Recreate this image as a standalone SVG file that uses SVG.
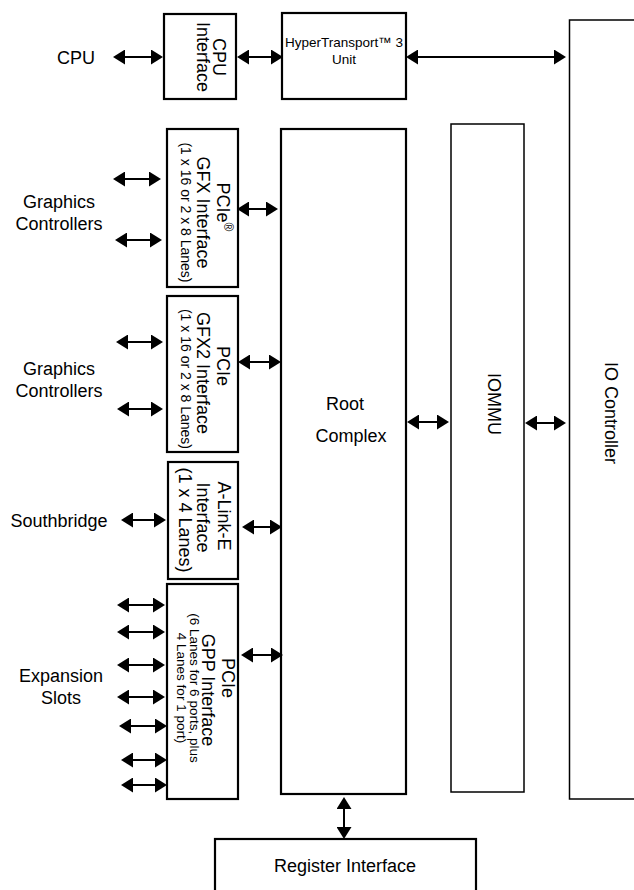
<svg xmlns="http://www.w3.org/2000/svg" width="634" height="890" viewBox="0 0 634 890">
<style>
  .box{fill:#fff;stroke:#000;stroke-width:2.2}
  .thin{fill:#fff;stroke:#000;stroke-width:1.5}
  text{font-family:"Liberation Sans",Arial,sans-serif;fill:#000}
  .t18{font-size:18px}
  .t14{font-size:14px}
  .t135{font-size:13.5px}
  .c{text-anchor:middle}
  .conn line{stroke:#000;stroke-width:2;marker-start:url(#ah);marker-end:url(#ah)}
</style>
<defs>
  <marker id="ah" viewBox="0 0 12 15" refX="10" refY="7.5" markerWidth="12" markerHeight="15" orient="auto-start-reverse" markerUnits="userSpaceOnUse">
    <path d="M0,0 L12,7.5 L0,15 z" fill="#000"/>
  </marker>
</defs>

<g id="labels">
  <text class="t18 c" x="76" y="64">CPU</text>
  <text class="t18 c" x="59" y="208">Graphics</text>
  <text class="t18 c" x="59" y="230">Controllers</text>
  <text class="t18 c" x="59" y="375">Graphics</text>
  <text class="t18 c" x="59" y="397">Controllers</text>
  <text class="t18 c" x="59" y="527">Southbridge</text>
  <text class="t18 c" x="61" y="682">Expansion</text>
  <text class="t18 c" x="61" y="704">Slots</text>
</g>

<g id="cpu-interface">
  <rect class="box" x="164" y="14" width="72" height="85"/>
  <g transform="translate(200,57) rotate(90)">
    <text class="t18 c" x="0" y="-13">CPU</text>
    <text class="t18 c" x="0" y="3">Interface</text>
  </g>
</g>

<g id="ht-unit">
  <rect class="box" x="282" y="13" width="124" height="86"/>
  <text class="t135 c" x="344" y="46.5">HyperTransport™ 3</text>
  <text class="t135 c" x="344" y="64">Unit</text>
</g>

<g id="io-controller">
  <rect class="thin" x="569.5" y="20" width="100" height="779"/>
  <text class="t18 c" transform="translate(605,413) rotate(90)" x="0" y="0">IO Controller</text>
</g>

<g id="iommu">
  <rect class="thin" x="451" y="124" width="73" height="668"/>
  <text class="t18 c" transform="translate(488,404) rotate(90)" x="0" y="0">IOMMU</text>
</g>

<g id="root-complex">
  <rect class="box" x="281" y="129" width="125" height="665"/>
  <text class="t18 c" x="345" y="410">Root</text>
  <text class="t18 c" x="351" y="442">Complex</text>
</g>

<g id="pcie-gfx">
  <rect class="box" x="167" y="129" width="71" height="158"/>
  <g transform="translate(200,0) rotate(90)">
    <text class="t18 c" x="207" y="-17">PCIe<tspan font-size="12" dy="-7">®</tspan></text>
    <text class="t18 c" x="212.5" y="3">GFX Interface</text>
    <text class="t14 c" x="212.5" y="19">(1 x 16 or 2 x 8 Lanes)</text>
  </g>
</g>

<g id="pcie-gfx2">
  <rect class="box" x="167" y="296" width="71" height="156"/>
  <g transform="translate(200,0) rotate(90)">
    <text class="t18 c" x="366" y="-17">PCIe</text>
    <text class="t18 c" x="373" y="3">GFX2 Interface</text>
    <text class="t14 c" x="379" y="19">(1 x 16 or 2 x 8 Lanes)</text>
  </g>
</g>

<g id="alink">
  <rect class="box" x="168" y="462" width="70" height="117"/>
  <g transform="translate(200,0) rotate(90)">
    <text class="t18 c" x="516" y="-18">A-Link-E</text>
    <text class="t18 c" x="517.5" y="3">Interface</text>
    <text class="t18 c" x="520" y="21">(1 x 4 Lanes)</text>
  </g>
</g>

<g id="pcie-gpp">
  <rect class="box" x="167" y="584" width="71" height="215"/>
  <g transform="translate(200,0) rotate(90)">
    <text class="t18 c" x="678" y="-22">PCIe</text>
    <text class="t18 c" x="690" y="-2">GPP Interface</text>
    <text class="t135 c" x="688" y="10">(6 Lanes for 6 ports, plus</text>
    <text class="t135 c" x="688" y="23">4 Lanes for 1 port)</text>
  </g>
</g>

<g id="register-interface">
  <rect class="box" x="215" y="839" width="261" height="70"/>
  <text class="t18 c" x="345" y="872">Register Interface</text>
</g>

<g id="connectors" class="conn">
  <line x1="115" y1="57" x2="161" y2="57"/>
  <line x1="239" y1="57" x2="281" y2="57"/>
  <line x1="408" y1="57" x2="564" y2="57"/>
  <line x1="115" y1="179" x2="159" y2="179"/>
  <line x1="117" y1="240" x2="160" y2="240"/>
  <line x1="239" y1="209" x2="276" y2="209"/>
  <line x1="118" y1="342" x2="161" y2="342"/>
  <line x1="119" y1="409" x2="161" y2="409"/>
  <line x1="240" y1="362" x2="279" y2="362"/>
  <line x1="123" y1="520" x2="164" y2="520"/>
  <line x1="244" y1="527" x2="280" y2="527"/>
  <line x1="119" y1="605" x2="163" y2="605"/>
  <line x1="119" y1="632" x2="163" y2="632"/>
  <line x1="119" y1="665" x2="163" y2="665"/>
  <line x1="119" y1="697" x2="163" y2="697"/>
  <line x1="121" y1="726" x2="165" y2="726"/>
  <line x1="123" y1="760" x2="165" y2="760"/>
  <line x1="123" y1="785" x2="165" y2="785"/>
  <line x1="243" y1="655" x2="281" y2="655"/>
  <line x1="409" y1="422" x2="447" y2="422"/>
  <line x1="527" y1="423" x2="564" y2="423"/>
  <line x1="344" y1="799" x2="344" y2="837"/>
</g>
</svg>
